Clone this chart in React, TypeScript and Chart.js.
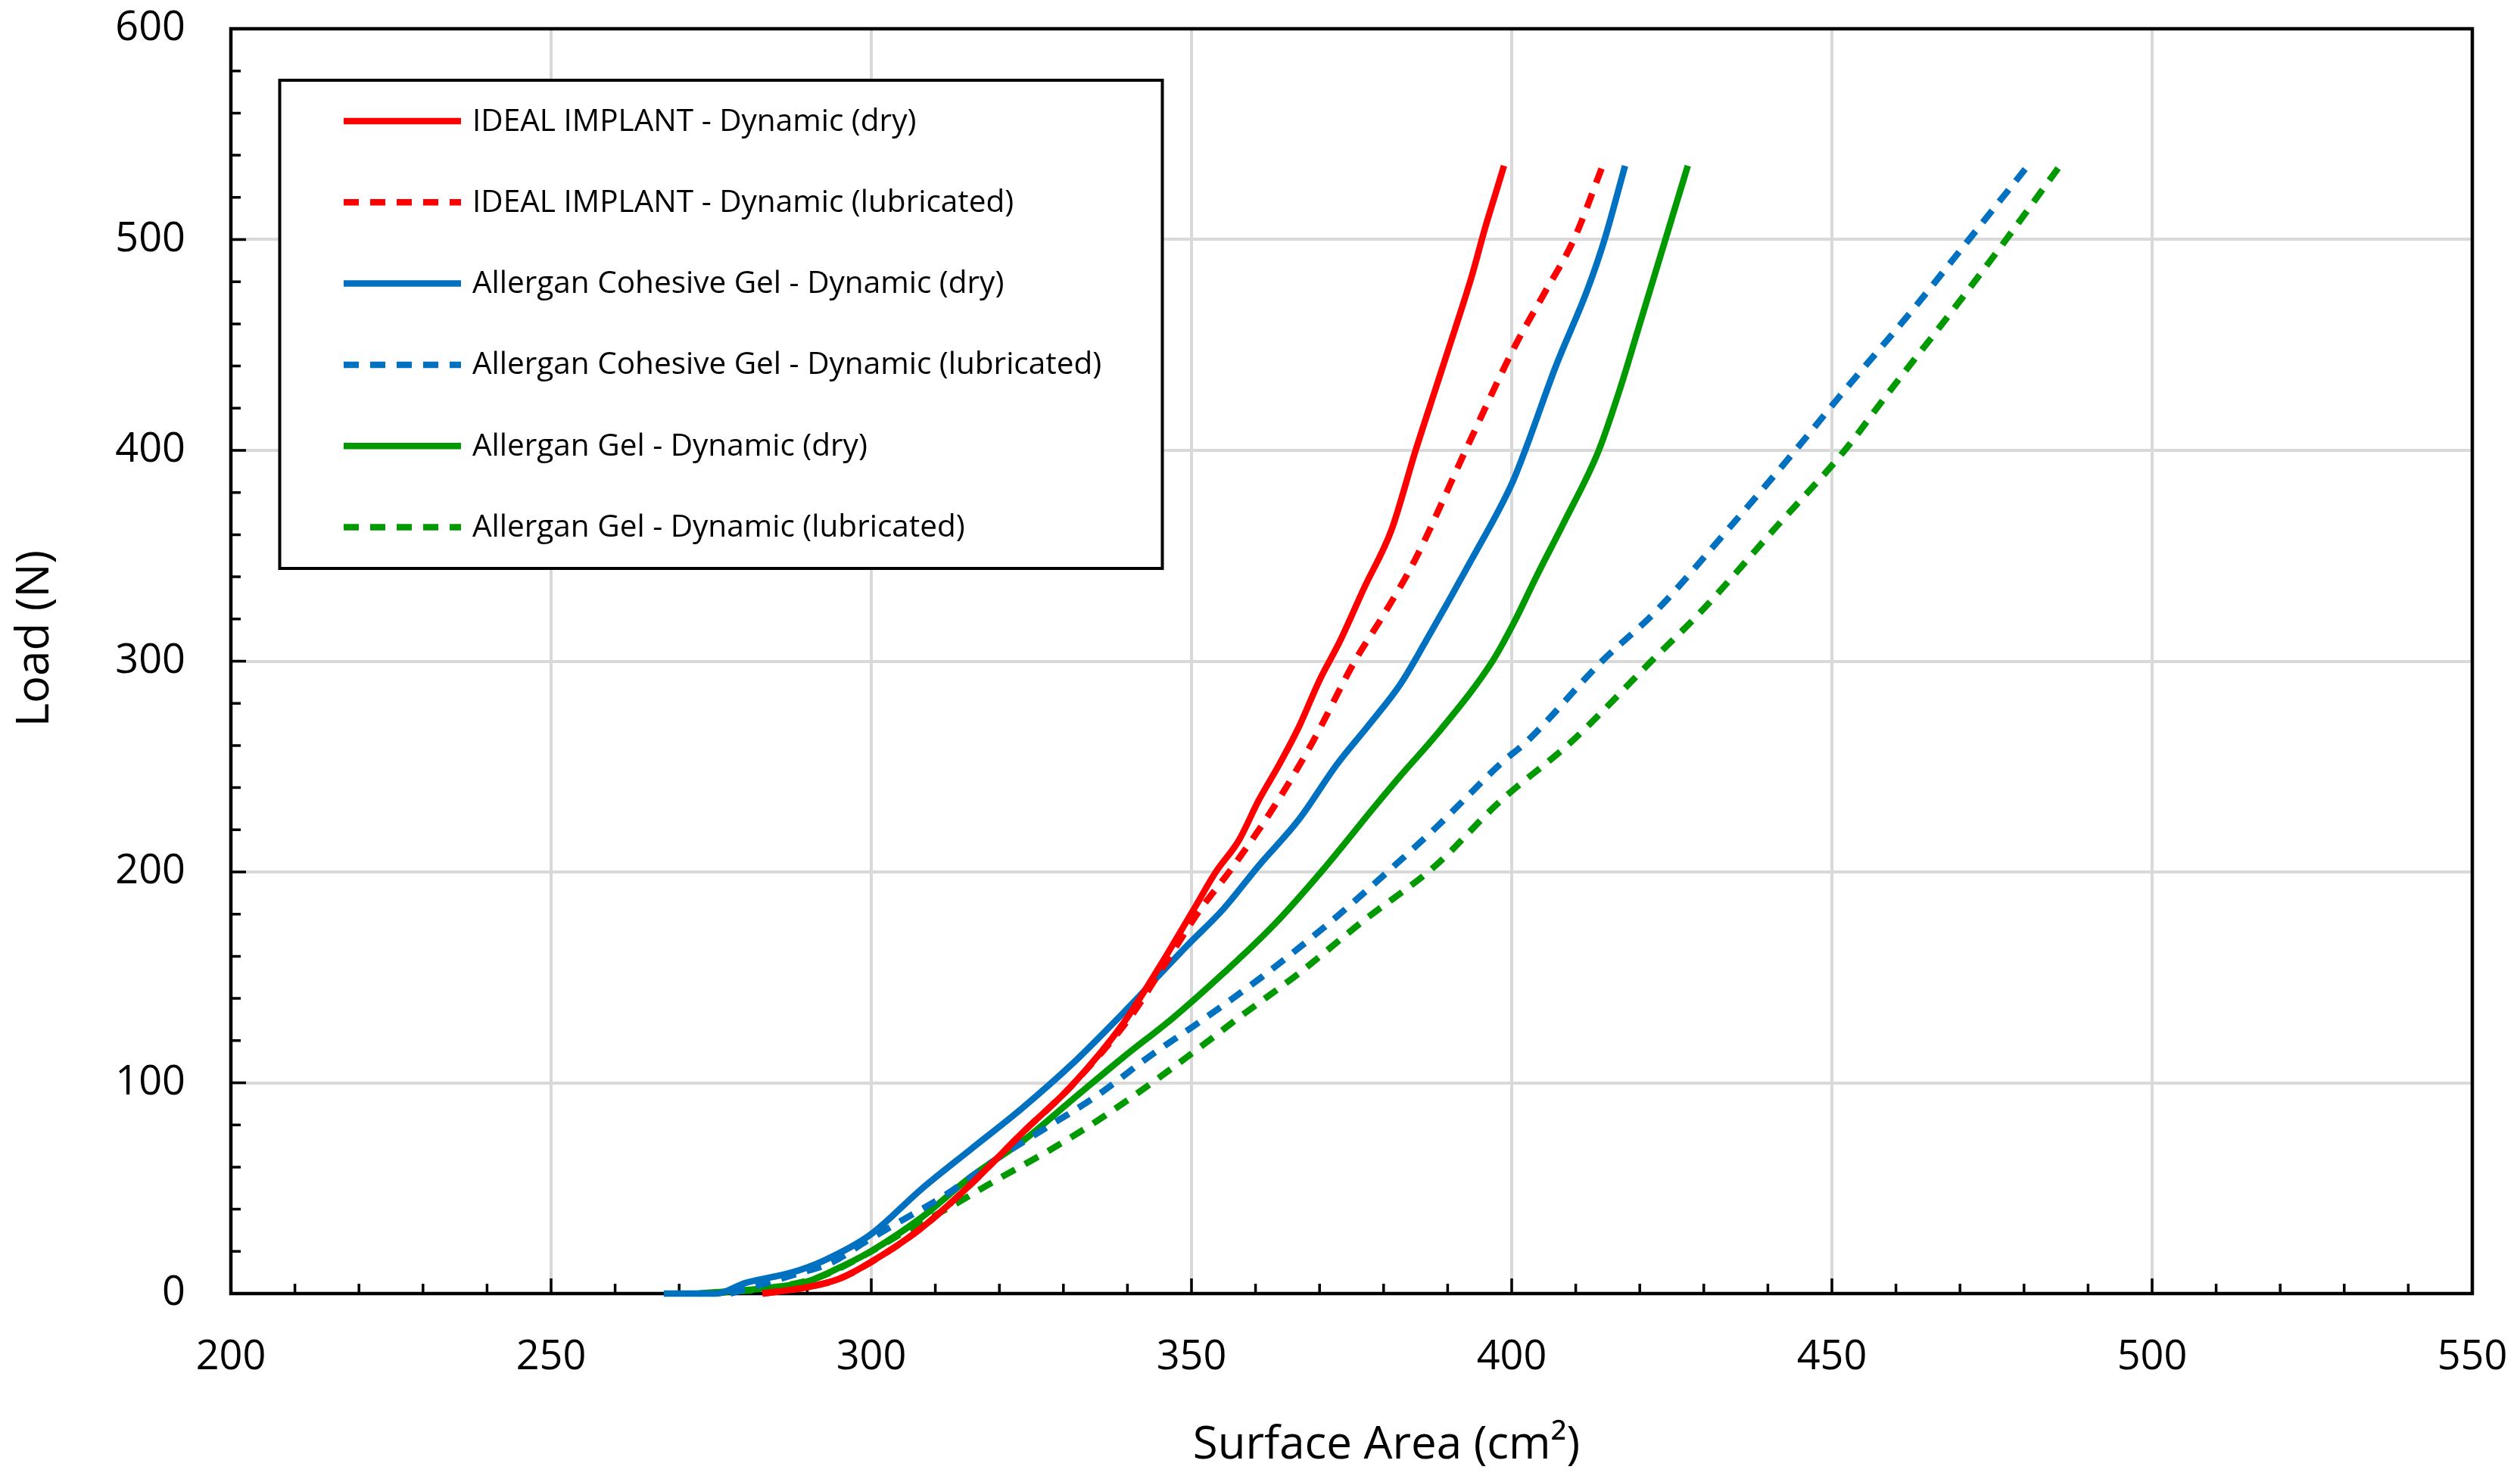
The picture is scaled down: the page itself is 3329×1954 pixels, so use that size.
import { useEffect, useRef } from 'react';
import { Chart, registerables } from 'chart.js';

Chart.register(...registerables);

const FONT = "'Open Sans', 'Noto Sans', 'DejaVu Sans', sans-serif";

// Axis ranges / ticks
const xMin = 200;
const xMax = 550;
const xStep = 50;
const xMinorStep = 10;
const yMin = 0;
const yMax = 600;
const yStep = 100;
const yMinorStep = 20;

const xTitle = 'Surface Area (cm²)';
const yTitle = 'Load (N)';

// Series labels
const seriesLabels = [
  'IDEAL IMPLANT - Dynamic (dry)',
  'IDEAL IMPLANT - Dynamic (lubricated)',
  'Allergan Cohesive Gel - Dynamic (dry)',
  'Allergan Cohesive Gel - Dynamic (lubricated)',
  'Allergan Gel - Dynamic (dry)',
  'Allergan Gel - Dynamic (lubricated)',
];

// IDEAL IMPLANT - dry
const idealDryArea = [283, 290, 295, 300, 307.8, 315.6, 323.5, 331.4, 339.3, 345, 350.3, 353.8, 357.4, 360.5, 363.7, 366.8, 370, 373.1, 377, 381.2, 385, 388.2, 391.2, 393.8, 395.8, 397.5, 398.8];
const idealDryLoad = [0, 3, 7, 15, 31, 52, 76, 99, 128, 155, 182, 200, 215, 234, 251, 269, 291, 309, 335, 362, 400, 430, 458, 483, 505, 522, 535];

// IDEAL IMPLANT - lubricated
const idealLubArea = [283, 290, 295, 300, 307.8, 315.6, 323.5, 331.4, 340.4, 346, 351.1, 356.6, 362.9, 368.8, 375.5, 380, 384.9, 392.8, 400.6, 405, 409.7, 414.2];
const idealLubLoad = [0, 3, 7, 15, 31, 52, 76, 99, 131, 157, 181, 203, 231, 261, 300, 322, 348, 400, 450, 474, 500, 535];

// Allergan Cohesive Gel - dry
const cohDryArea = [267.6, 275.8, 280.3, 287.6, 292.5, 299.9, 307.8, 315.6, 323.5, 331.4, 339.3, 349.3, 355, 360.5, 366.8, 372.7, 377.9, 382.6, 386.5, 393.7, 400, 402.1, 406.9, 411.8, 414.5, 417.7];
const cohDryLoad = [0, 0, 5, 10, 15.5, 28, 49.5, 68.6, 87.8, 109, 133, 165, 182.5, 203, 225, 251, 270.5, 289, 309, 348, 384, 400, 440, 476, 500, 535];

// Allergan Cohesive Gel - lubricated
const cohLubArea = [278, 288, 294, 299.3, 303.8, 311.7, 319.6, 327.5, 335.3, 343.2, 351.1, 360.9, 370.8, 380.6, 388.5, 398.5, 402.4, 414.1, 422.3, 434.2, 444.3, 451.3, 462.7, 471.4, 480.6];
const cohLubLoad = [0, 9, 15, 25, 33, 47, 64, 79, 94, 112, 128.5, 150, 174, 200, 222, 252, 262, 300, 323, 364, 400, 426, 467, 500, 535];

// Allergan Gel - dry
const gelDryArea = [273, 283, 290.3, 294.8, 299.9, 307.8, 315.6, 323.5, 331.4, 339.3, 347.2, 355, 362.9, 370.8, 378.6, 382.6, 388.5, 397, 400.3, 404, 408.2, 413.6, 417, 420, 424, 427.5];
const gelDryLoad = [0, 2.4, 6, 12, 20, 36, 55.5, 72, 92, 112, 131, 152, 175, 202, 231, 245.5, 266, 300, 318, 341, 366, 400, 430, 460, 500, 535];

// Allergan Gel - lubricated
const gelLubArea = [275, 285, 292, 300, 305, 311.7, 319.6, 327.5, 335.3, 343.2, 352.7, 357, 366.8, 376.7, 388.1, 398, 409.4, 421.8, 429.4, 441.4, 452, 458.5, 469, 477.2, 485.6];
const gelLubLoad = [0, 3, 8, 20, 29, 40, 54, 67.4, 82, 98.6, 120, 130, 152, 176.5, 203, 233, 262, 300, 323, 364, 400, 426, 467, 500, 535];

const RED = '#FF0000';
const BLUE = '#0070C0';
const GREEN = '#009A00';
const DASH = [20, 15];

const zip = (xs: number[], ys: number[]) => xs.map((x, i) => ({ x, y: ys[i] }));

const seriesDefs = [
  { area: idealDryArea, load: idealDryLoad, color: RED, dash: [] as number[] },
  { area: idealLubArea, load: idealLubLoad, color: RED, dash: DASH },
  { area: cohDryArea, load: cohDryLoad, color: BLUE, dash: [] as number[] },
  { area: cohLubArea, load: cohLubLoad, color: BLUE, dash: DASH },
  { area: gelDryArea, load: gelDryLoad, color: GREEN, dash: [] as number[] },
  { area: gelLubArea, load: gelLubLoad, color: GREEN, dash: DASH },
];

const decorPlugin = {
  id: 'decor',
  beforeDatasetsDraw(chart: any) {
    const { ctx, chartArea } = chart;
    const xs = chart.scales.x;
    const ys = chart.scales.y;
    const { left, right, top, bottom } = chartArea;
    ctx.save();
    ctx.strokeStyle = '#000';
    ctx.lineWidth = 3.5;
    ctx.beginPath();
    for (let v = yMin; v <= yMax; v += yMinorStep) {
      const p = ys.getPixelForValue(v);
      const len = v % yStep === 0 ? 20 : 13;
      ctx.moveTo(left, p);
      ctx.lineTo(left + len, p);
    }
    for (let v = xMin; v <= xMax; v += xMinorStep) {
      const p = xs.getPixelForValue(v);
      const len = v % xStep === 0 ? 20 : 13;
      ctx.moveTo(p, bottom);
      ctx.lineTo(p, bottom - len);
    }
    ctx.stroke();
    ctx.lineWidth = 4.5;
    ctx.strokeRect(left, top, right - left, bottom - top);
    ctx.restore();
  },
  afterDraw(chart: any) {
    const { ctx, chartArea } = chart;
    ctx.save();
    // legend box
    const bx = 369.5, by = 106, bw = 1166, bh = 645;
    ctx.fillStyle = '#fff';
    ctx.fillRect(bx, by, bw, bh);
    ctx.strokeStyle = '#000';
    ctx.lineWidth = 4;
    ctx.strokeRect(bx, by, bw, bh);
    ctx.font = `40.5px ${FONT}`;
    ctx.textBaseline = 'middle';
    ctx.textAlign = 'left';
    chart.data.datasets.forEach((ds: any, i: number) => {
      const yRow = 160 + i * 107.3;
      ctx.strokeStyle = ds.borderColor;
      ctx.lineWidth = ds.borderWidth;
      ctx.setLineDash(ds.borderDash || []);
      ctx.lineCap = 'butt';
      ctx.beginPath();
      ctx.moveTo(454, yRow);
      ctx.lineTo(609, yRow);
      ctx.stroke();
      ctx.setLineDash([]);
      ctx.fillStyle = '#000';
      ctx.fillText(ds.label, 624, yRow + 1);
    });
    // axis titles
    ctx.fillStyle = '#000';
    ctx.font = `60px ${FONT}`;
    ctx.textAlign = 'center';
    ctx.textBaseline = 'alphabetic';
    ctx.fillText(xTitle, (chartArea.left + chartArea.right) / 2 + 46, 1927);
    ctx.translate(64, (chartArea.top + chartArea.bottom) / 2 - 30);
    ctx.rotate(-Math.PI / 2);
    ctx.fillText(yTitle, 0, 0);
    ctx.restore();
  },
};

const zeroPadding = (s: any) => {
  s.paddingTop = 0;
  s.paddingBottom = 0;
  s.paddingLeft = 0;
  s.paddingRight = 0;
};

export default function App() {
  const ref = useRef<HTMLCanvasElement>(null);
  useEffect(() => {
    document.body.style.margin = '0';
    const canvas = ref.current;
    if (!canvas) return;
    const chart = new Chart(canvas, {
      type: 'scatter',
      data: {
        datasets: seriesDefs.map((s, i) => ({
          label: seriesLabels[i],
          data: zip(s.area, s.load),
          showLine: true,
          borderColor: s.color,
          backgroundColor: s.color,
          borderWidth: 8.5,
          borderDash: s.dash,
          borderCapStyle: 'butt',
          borderJoinStyle: 'round',
          pointRadius: 0,
          pointHoverRadius: 0,
          cubicInterpolationMode: 'monotone',
          fill: false,
          clip: false as any,
        })),
      },
      options: {
        animation: false,
        responsive: true,
        maintainAspectRatio: false,
        layout: { padding: { top: 38, right: 63, left: 0, bottom: 0 } },
        plugins: {
          legend: { display: false },
          tooltip: { enabled: false },
          title: { display: false },
        },
        events: [],
        scales: {
          x: {
            type: 'linear',
            min: xMin,
            max: xMax,
            ticks: {
              stepSize: xStep,
              padding: 52,
              color: '#000',
              font: { family: FONT, size: 54 },
              maxRotation: 0,
            },
            grid: { color: '#D9D9D9', lineWidth: 4, drawTicks: false },
            border: { display: false },
            afterFit: (s: any) => {
              s.height = 245;
              zeroPadding(s);
            },
          },
          y: {
            type: 'linear',
            min: yMin,
            max: yMax,
            ticks: {
              stepSize: yStep,
              padding: 60,
              color: '#000',
              font: { family: FONT, size: 54 },
            },
            grid: { color: '#D9D9D9', lineWidth: 4, drawTicks: false },
            border: { display: false },
            afterFit: (s: any) => {
              s.width = 305;
              zeroPadding(s);
            },
          },
        },
      },
      plugins: [decorPlugin],
    } as any);
    return () => chart.destroy();
  }, []);
  return (
    <div style={{ width: 3329, height: 1954, position: 'relative' }}>
      <canvas ref={ref} />
    </div>
  );
}
